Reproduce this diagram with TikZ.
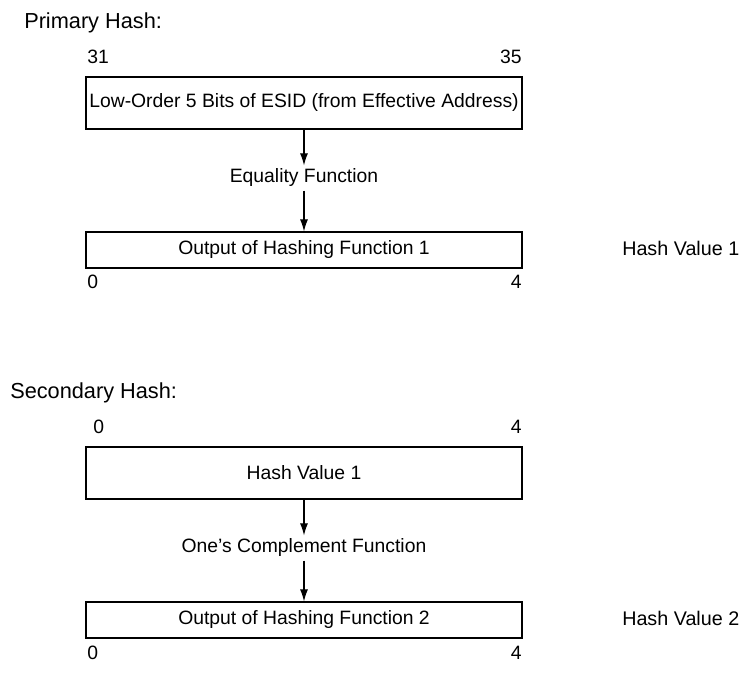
\documentclass[tikz,border=0pt]{standalone}
\usepackage{fontspec}
\setmainfont{Liberation Sans}
\usetikzlibrary{arrows.meta,calc,positioning}
\tikzset{
    fieldbox/.style={
        rectangle,
        draw=black,
        line width=0.9pt,
        minimum width=327pt,
        inner sep=2pt,
        align=center
    },
    bitlabel/.style={
        inner sep=0pt
    },
    titlelabel/.style={
        anchor=west,
        inner sep=0pt,
        font=\fontsize{16.3}{19}\selectfont
    },
    funclabel/.style={
        inner sep=2.5pt
    },
    arrow/.style={
        -{Latex[length=9pt,width=6pt]},
        line width=0.8pt
    }
}

\begin{document}
\begin{tikzpicture}[x=0.75pt, y=-0.75pt, font=\fontsize{14.5}{17}\selectfont]
    % Primary hash
    \begin{scope}
        \node[titlelabel] (primary) at (24,23) {Primary Hash:};
        \node[fieldbox, minimum height=39pt] (esid) at (304,103) {Low-Order 5 Bits of ESID (from Effective Address)};
        \node[bitlabel, anchor=base west] (esidlo) at (87,64) {31};
        \node[bitlabel, anchor=base east] (esidhi) at (522,64) {35};

        \node[funclabel] (eqfun) at (304,178) {Equality Function};

        \node[fieldbox, minimum height=27pt] (outone) at (304,250) {Output of Hashing Function 1};
        \node[bitlabel, anchor=base west] (outonelo) at (87,289) {0};
        \node[bitlabel, anchor=base east] (outonehi) at (522,289) {4};
        \node[titlelabel, font=\fontsize{14.8}{17}\selectfont] (hashone) at (622,248) {Hash Value 1};

        \draw[arrow] (esid.south) -- (eqfun.north);
        \draw[arrow] (eqfun.south) -- (outone.north);
    \end{scope}

    % Secondary hash
    \begin{scope}[shift={(0,370)}]
        \node[titlelabel] (secondary) at (10,23) {Secondary Hash:};
        \node[fieldbox, minimum height=39pt] (hashin) at (304,103) {Hash Value 1};
        \node[bitlabel, anchor=base west] (hashinlo) at (93,64) {0};
        \node[bitlabel, anchor=base east] (hashinhi) at (522,64) {4};

        \node[funclabel] (compfun) at (304,178) {One's Complement Function};

        \node[fieldbox, minimum height=27pt] (outtwo) at (304,250) {Output of Hashing Function 2};
        \node[bitlabel, anchor=base west] (outtwolo) at (87,289) {0};
        \node[bitlabel, anchor=base east] (outtwohi) at (522,289) {4};
        \node[titlelabel, font=\fontsize{14.8}{17}\selectfont] (hashtwo) at (622,248) {Hash Value 2};

        \draw[arrow] (hashin.south) -- (compfun.north);
        \draw[arrow] (compfun.south) -- (outtwo.north);
    \end{scope}

    \useasboundingbox (0,0) rectangle (743,673);
\end{tikzpicture}
\end{document}
